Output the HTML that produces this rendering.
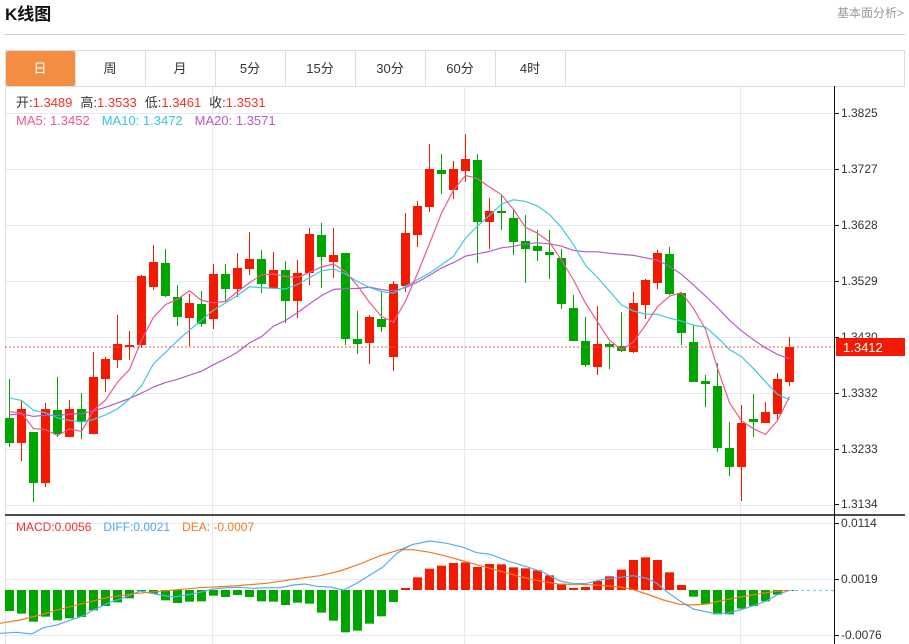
<!DOCTYPE html>
<html><head><meta charset="utf-8">
<style>
body{margin:0;background:#fff;width:909px;height:644px;overflow:hidden;font-family:"Liberation Sans","Noto Sans CJK SC",sans-serif;}
</style></head><body>
<svg id="s" width="909" height="644" xmlns="http://www.w3.org/2000/svg" style="position:absolute;left:0;top:0">
<text x="5" y="20" font-size="17" font-weight="bold" fill="#111" font-family="Liberation Sans,Noto Sans CJK SC,sans-serif">K线图</text>
<text x="904" y="17" font-size="12" fill="#999" text-anchor="end" font-family="Liberation Sans,Noto Sans CJK SC,sans-serif">基本面分析&gt;</text>
<line x1="4" y1="34.5" x2="905" y2="34.5" stroke="#d0d0d0"/>
<rect x="5.5" y="50.5" width="899" height="36" fill="#fff" stroke="#ddd"/>
<rect x="6" y="51" width="69" height="35" fill="#f28d42" rx="2"/>
<g id="tabs" font-size="13" fill="#333" text-anchor="middle" font-family="Liberation Sans,Noto Sans CJK SC,sans-serif"></g>
<line x1="5.5" y1="86" x2="5.5" y2="644" stroke="#dde3ea"/>
<g id="grid" stroke="#e3eaf1" stroke-width="1"></g>
<g id="info" font-size="13" font-family="Liberation Sans,Noto Sans CJK SC,sans-serif">
<text x="16" y="107"><tspan fill="#333">开:</tspan><tspan fill="#f5302a">1.3489</tspan><tspan fill="#333" dx="8">高:</tspan><tspan fill="#f5302a">1.3533</tspan><tspan fill="#333" dx="8">低:</tspan><tspan fill="#f5302a">1.3461</tspan><tspan fill="#333" dx="8">收:</tspan><tspan fill="#f5302a">1.3531</tspan></text>
<text x="16" y="125"><tspan fill="#f0578d">MA5: 1.3452</tspan><tspan fill="#36c6dc" dx="12">MA10: 1.3472</tspan><tspan fill="#b45bc8" dx="12">MA20: 1.3571</tspan></text>
<text x="16" y="531" font-size="12"><tspan fill="#f5302a">MACD:0.0056</tspan><tspan fill="#4ea6f0" dx="12">DIFF:0.0021</tspan><tspan fill="#f07a22" dx="12">DEA: -0.0007</tspan></text>
</g>
<g id="mac"></g>
<g id="cand"></g>
<g id="lines" fill="none" stroke-width="1.2"></g>
<line x1="5" y1="347" x2="835" y2="347" stroke="#f05050" stroke-dasharray="2,2"/>
<line x1="5" y1="515" x2="905" y2="515" stroke="#111" stroke-width="1.5"/>
<line x1="834.5" y1="86" x2="834.5" y2="644" stroke="#111"/>
<g id="ax" font-size="12" fill="#333" font-family="Liberation Sans,sans-serif"></g>
<rect x="836" y="338" width="69" height="18" fill="#f21a00"/>
<text x="843" y="352" font-size="13" fill="#fff" font-family="Liberation Sans,sans-serif">1.3412</text>
</svg>
<script>
var NS="http://www.w3.org/2000/svg";
function el(p,t,a,txt){var e=document.createElementNS(NS,t);for(var k in a)e.setAttribute(k,a[k]);if(txt!=null)e.textContent=txt;document.getElementById(p).appendChild(e);return e;}
var tabs=["日","周","月","5分","15分","30分","60分","4时"];
tabs.forEach(function(t,i){var x=5+70*i;if(i>0)el("tabs","line",{x1:x+0.5,y1:51,x2:x+0.5,y2:86,stroke:"#ddd"});
 el("tabs","text",{x:x+35,y:73,fill:i==0?"#fff":"#333"},t);});
el("tabs","line",{x1:565.5,y1:51,x2:565.5,y2:86,stroke:"#ddd"});
[113,169,225,281,337,393,449,505,523,579,635].forEach(function(y){el("grid","line",{x1:6,y1:y+.5,x2:834,y2:y+.5});});
[212,464,740].forEach(function(x){el("grid","line",{x1:x+.5,y1:87,x2:x+.5,y2:644});});
var labs=[["1.3825",113],["1.3727",169],["1.3628",225],["1.3529",281],["1.3430",337],["1.3332",393],["1.3233",449],["1.3134",504],["0.0114",523],["0.0019",579],["-0.0076",635]];
labs.forEach(function(l){el("ax","line",{x1:835,y1:l[1]+.5,x2:839,y2:l[1]+.5,stroke:"#111"});el("ax","text",{x:841,y:l[1]+4},l[0]);});
// [top,bottom,hi,lo,red]
var C=[[418,443,379,447,0],[409,443,400,461,1],[432,483,432,502,0],[409,483,403,487,1],[410,434,377,437,0],[409,437,400,437,1],[409,422,393,439,0],[377,434,352,434,1],[359,379,357,392,1],[344,360,315,368,1],
[345,347,331,360,1],[276,345,275,348,1],[262,287,245,290,1],[263,296,249,297,0],[297,317,285,326,0],[303,318,294,346,1],[304,324,291,327,0],[274,319,264,329,1],[274,289,264,301,0],[268,289,253,297,1],
[259,269,232,275,1],[259,284,250,293,0],[270,288,252,289,1],[270,301,261,323,0],[273,301,260,318,1],[234,273,228,285,1],[235,257,223,288,0],[255,262,228,278,1],[253,339,253,345,0],[339,344,311,354,0],
[317,343,315,364,1],[319,327,292,332,0],[284,357,281,371,1],[233,286,213,292,1],[206,235,201,247,1],[169,207,144,212,1],[170,174,154,194,0],[169,190,161,199,1],[159,171,134,182,1],[160,222,154,263,0],
[211,222,198,249,1],[211,213,195,230,0],[218,242,210,255,0],[241,249,215,283,0],[246,251,230,261,0],[252,255,230,279,0],[258,304,249,309,0],[308,341,295,341,0],[341,365,317,367,0],[344,367,306,375,1],
[344,347,342,369,0],[346,351,312,352,0],[303,352,292,353,1],[280,305,279,319,1],[253,283,250,289,1],[254,294,247,295,0],[293,333,292,345,0],[342,382,325,382,0],[381,384,375,407,0],[386,448,363,452,0],
[448,467,422,476,0],[423,467,405,501,1],[419,422,394,437,0],[412,423,402,423,1],[379,414,373,420,1],[347,382,337,386,1]];
var RED="#f41a00",GRN="#00a600";
var closes=[];for(var i=0;i<10;i++)closes.push(432);for(i=0;i<5;i++)closes.push(384);for(i=0;i<4;i++)closes.push(404);
var pre=closes.length;
C.forEach(function(c,i){var x=9+12*i,col=c[4]?RED:GRN;
 el("cand","line",{x1:x+.5,y1:c[2],x2:x+.5,y2:c[3],stroke:col,"stroke-width":1});
 el("cand","rect",{x:x-4,y:c[0],width:9,height:Math.max(2,c[1]-c[0]),fill:col});
 closes.push(c[4]?c[0]:c[1]);});
function ma(n,col){var pts=[];for(var i=0;i<C.length;i++){var s=0;for(var k=0;k<n;k++)s+=closes[pre+i-k];pts.push((9+12*i+.5)+","+(s/n).toFixed(1));}
 el("lines","polyline",{points:pts.join(" "),stroke:col});}
ma(20,"#b45bc8");ma(10,"#3ec8de");ma(5,"#f0578d");
// MACD bars (zoom y)
var M=[288,296,320,305,316,310,306,286,273,262,250,228,236,256,264,260,259,242,246,240,246,259,260,270,263,266,293,317,352,347,326,304,261,219,187,161,152,144,142,156,147,148,157,160,166,181,206,219,216,198,184,164,135,127,135,172,210,245,268,298,298,281,273,259,239,228];
var z=590;
M.forEach(function(v,i){var y=515+v/3,x=9+12*i;var t=Math.min(y,z),h=Math.abs(y-z);if(h<1)h=1;
 el("mac","rect",{x:x-4,y:t,width:9,height:h,fill:y<z?RED:GRN});});
function pl(a,ox,col){var p=[];for(var i=0;i<a.length;i+=2)p.push((ox+a[i]/3).toFixed(1)+","+(515+a[i+1]/3).toFixed(1));return p;}
var d1=[0,355,50,352,95,357,130,338,170,330,210,316,250,302,280,285,330,262,380,245,420,228,480,240,520,246,560,240,600,232,640,222,680,218,720,217,760,220,800,218,840,218,880,210,915,207,950,214,990,216,1030,225,1070,205,1110,180,1150,155,1190,115,1230,92];
var d2=[0,104,40,88,90,78,140,85,190,97,230,113,270,118,330,140,380,155,430,172,480,198,520,206,560,205,600,195,650,188,700,182,740,190,770,205,800,230,840,258,880,282,940,295,980,295,1020,285,1060,272,1100,258,1130,240,1165,227];
var e1=[0,325,60,315,120,300,180,283,250,265,320,248,400,236,500,227,600,218,700,213,800,205,900,190,960,182,1020,168,1080,147,1140,122,1200,104];
var e2=[0,104,40,104,90,112,140,124,190,138,240,152,300,168,360,185,420,198,480,208,540,208,600,211,660,216,700,224,740,237,790,255,840,268,880,270,920,267,960,258,1000,250,1040,243,1080,236,1120,230,1165,226];
el("lines","polyline",{points:pl(d1,0).concat(pl(d2,400)).join(" "),stroke:"#5aaaf0"});
el("lines","polyline",{points:pl(e1,0).concat(pl(e2,400)).join(" "),stroke:"#f07a22"});
el("lines","line",{x1:789,y1:590.5,x2:834,y2:590.5,stroke:"#8cc8ec","stroke-dasharray":"3,3"});
</script>
</body></html>
